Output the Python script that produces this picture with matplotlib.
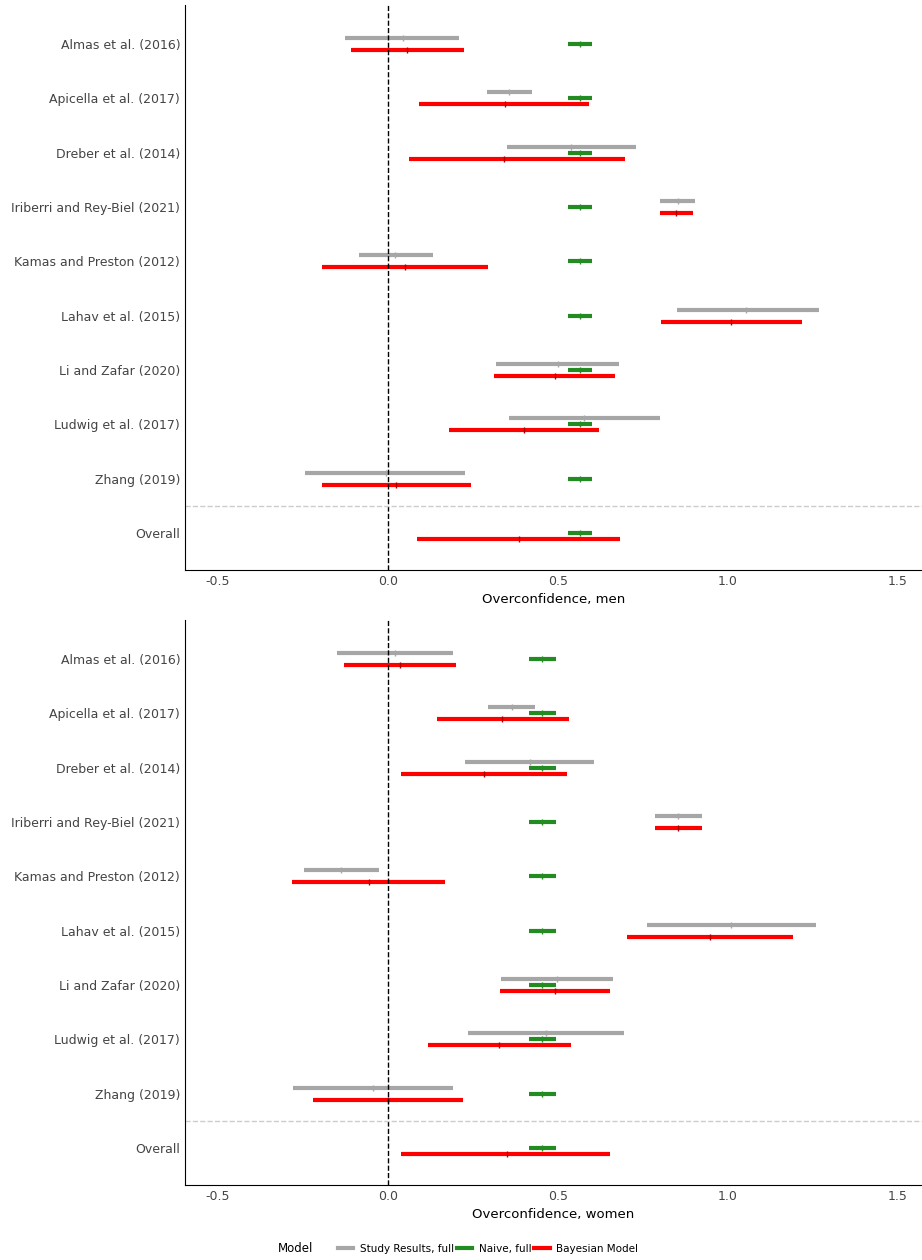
import matplotlib.pyplot as plt
import numpy as np

studies = ['Almas et al. (2016)', 'Apicella et al. (2017)', 'Dreber et al. (2014)',
           'Iriberri and Rey-Biel (2021)', 'Kamas and Preston (2012)', 'Lahav et al. (2015)',
           'Li and Zafar (2020)', 'Ludwig et al. (2017)', 'Zhang (2019)', 'Overall']

# men: (estimate, low, high); None for Overall study results
men_study = [(0.044, -0.126, 0.209), (0.356, 0.291, 0.424), (0.538, 0.35, 0.73),
             (0.853, 0.80, 0.903), (0.02, -0.085, 0.132), (1.053, 0.85, 1.268),
             (0.50, 0.318, 0.679), (0.576, 0.356, 0.80), (-0.006, -0.244, 0.226), None]
men_naive = (0.565, 0.53, 0.60)
men_bayes = [(0.056, -0.109, 0.224), (0.344, 0.091, 0.591), (0.34, 0.062, 0.697),
             (0.847, 0.80, 0.897), (0.05, -0.194, 0.294), (1.01, 0.803, 1.218),
             (0.49, 0.312, 0.668), (0.40, 0.179, 0.62), (0.024, -0.194, 0.244), (0.385, 0.085, 0.682)]

women_study = [(0.02, -0.15, 0.191), (0.365, 0.294, 0.432), (0.418, 0.226, 0.606),
               (0.853, 0.785, 0.924), (-0.138, -0.247, -0.026), (1.009, 0.762, 1.259),
               (0.497, 0.332, 0.662), (0.465, 0.235, 0.694), (-0.044, -0.279, 0.191), None]
women_naive = (0.453, 0.415, 0.494)
women_bayes = [(0.035, -0.129, 0.20), (0.335, 0.144, 0.532), (0.282, 0.038, 0.526),
               (0.853, 0.785, 0.924), (-0.056, -0.282, 0.168), (0.947, 0.703, 1.191),
               (0.491, 0.329, 0.653), (0.326, 0.118, 0.538), (0.0, -0.221, 0.221), (0.35, 0.038, 0.653)]

GRAY, GREEN, RED = '#a6a6a6', '#228b22', '#ff0000'

fig = plt.figure(figsize=(9.22, 12.6), dpi=100)
ax1 = fig.add_axes([185/922, 1-570/1260, 737/922, 565/1260])
ax2 = fig.add_axes([185/922, 1-1185/1260, 737/922, 565/1260])


def draw(ax, study, naive, bayes, xlabel):
    n = len(studies)
    ys = np.arange(n)
    for i, y in enumerate(ys):
        if study[i] is not None:
            e, lo, hi = study[i]
            ax.plot([lo, hi], [y - 0.11, y - 0.11], color=GRAY, lw=3, solid_capstyle='butt')
            ax.plot([e], [y - 0.11], marker='|', color=GRAY, ms=4)
        e, lo, hi = naive
        ax.plot([lo, hi], [y, y], color=GREEN, lw=3, solid_capstyle='butt')
        ax.plot([e], [y], marker='|', color=GREEN, ms=4)
        e, lo, hi = bayes[i]
        ax.plot([lo, hi], [y + 0.11, y + 0.11], color=RED, lw=3, solid_capstyle='butt')
        ax.plot([e], [y + 0.11], marker='|', color='#aa0000', ms=4)
    ax.axvline(0, color='black', ls='--', lw=1)
    ax.axhline(n - 1.5, color='#cccccc', ls='--', lw=1)
    ax.set_ylim(n - 0.32, -0.72)
    ax.set_xlim(-0.597, 1.571)
    ax.set_yticks(ys)
    ax.set_yticklabels(studies, fontsize=9, color='#444444')
    ax.set_xticks([-0.5, 0, 0.5, 1.0, 1.5])
    ax.set_xticklabels(['-0.5', '0.0', '0.5', '1.0', '1.5'], fontsize=9, color='#444444')
    ax.tick_params(length=0)
    ax.set_xlabel(xlabel, fontsize=9.5, labelpad=4)
    for s in ['top', 'right']:
        ax.spines[s].set_visible(False)


draw(ax1, men_study, men_naive, men_bayes, 'Overconfidence, men')
draw(ax2, women_study, women_naive, women_bayes, 'Overconfidence, women')

h1, = ax2.plot([], [], color=GRAY, lw=3)
h2, = ax2.plot([], [], color=GREEN, lw=3)
h3, = ax2.plot([], [], color=RED, lw=3)
fig.text(278/922, 1 - 1249/1260, 'Model', fontsize=8.5, va='center', ha='left')
fig.legend([h1, h2, h3], ['Study Results, full', 'Naive, full', 'Bayesian Model'],
           loc='center', bbox_to_anchor=(488/922, 1 - 1249/1260), ncol=3, frameon=False,
           fontsize=7.5, handlelength=1.5, columnspacing=0.3, handletextpad=0.6)

fig.savefig('out.png', dpi=100)
